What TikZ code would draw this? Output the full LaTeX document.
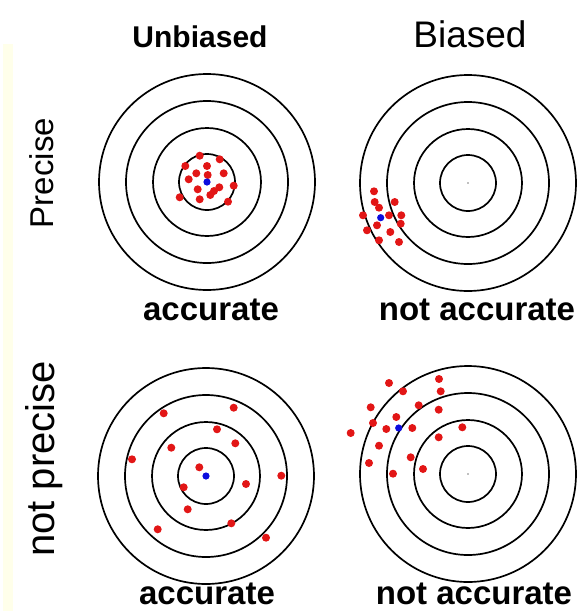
\documentclass[tikz,border=0pt]{standalone}
\usepackage{fontspec}
\setmainfont{Liberation Sans}
\definecolor{shotred}{RGB}{226,22,22}
\definecolor{shotblue}{RGB}{12,12,222}
\definecolor{paleyellow}{RGB}{255,255,234}

\begin{document}
\begin{tikzpicture}[x=1pt,y=-1pt,
    ring/.style={draw=black,line width=1.7pt},
    hit/.style={fill=shotred},
    mean/.style={fill=shotblue},
    lbl/.style={anchor=base,inner sep=0pt,font=\fontsize{33}{33}\selectfont\bfseries},
    side/.style={anchor=base,inner sep=0pt,rotate=90}]
      \useasboundingbox (0,0) rectangle (585,611);
      \fill[paleyellow] (3,44) rectangle (13,611);
      % column and row titles
      \node[anchor=base,font=\fontsize{30}{30}\selectfont\bfseries] (unbiased) at (200,47) {Unbiased};
      \node[anchor=base,font=\fontsize{37}{37}\selectfont] (biased) at (470,47) {Biased};
      \node[side,font=\fontsize{33}{33}\selectfont] (precise) at (53,173) {Precise};
      \node[side,font=\fontsize{40}{40}\selectfont] (notprecise) at (54,459) {not precise};
      % rings
      \foreach \cx/\cy in {207/182, 468/183, 206/476, 468/474} {
        \foreach \r in {28,54,81,108} { \draw[ring] (\cx,\cy) circle (\r); }
        \fill[gray] (\cx,\cy) circle (0.8);
      }
      % precise, unbiased
      \begin{scope}[shift={(207,182)}]
        \foreach \dx/\dy in {-7.3/-26.3, 12.7/-22.7, -21.7/-16, 0/-16, -10.7/-8.7, 16.7/-8.7,
                             -18.3/-2.7, 0.7/-7, -9.3/7.3, 12.3/5.3, 26.7/3.7, -27.3/15.3,
                             -7.3/17.3, 3.3/13, 21/19.7, 7/9} {
          \fill[hit] (\dx,\dy) circle (4);
        }
        \fill[mean] (0,0) circle (3.6);
      \end{scope}
      % precise, biased
      \begin{scope}[shift={(468,183)}]
        \foreach \dx/\dy in {-94/8.3, -93.3/19, -89/24.7, -73.3/19, -105/32.3, -79/32.3,
                             -66.7/32.3, -67.3/40.7, -91/42.3, -101/47.3, -77.7/49,
                             -89/57.3, -69/59} {
          \fill[hit] (\dx,\dy) circle (4);
        }
        \fill[mean] (-87.3,34.7) circle (3.6);
      \end{scope}
      % not precise, unbiased
      \begin{scope}[shift={(206,476)}]
        \foreach \dx/\dy in {-42.3/-62.7, 27.7/-68.3, 11/-46.7, 29.3/-32.7, -34.7/-28.3,
                             -74/-16.7, -6.7/-8.7, 75.3/-0.3, 40/8, -22.3/11.3,
                             -18.3/33.3, 25.3/47.3, -48.3/53.3, 60/61.7} {
          \fill[hit] (\dx,\dy) circle (4);
        }
        \fill[mean] (0,0) circle (3.6);
      \end{scope}
      % not precise, biased
      \begin{scope}[shift={(468,474)}]
        \foreach \dx/\dy in {-79/-91, -29/-95, -65/-82.7, -27.3/-82.7, -97.3/-66.7,
                             -49.3/-68.7, -29.3/-64.3, -71.7/-57, -95/-51, -81.7/-45,
                             -55.7/-46, -5.7/-46.7, -117.3/-41, -29.3/-36.7, -89/-28.3,
                             -57.3/-16.7, -45/-5, -99/-11, -75/-0.3} {
          \fill[hit] (\dx,\dy) circle (4);
        }
        \fill[mean] (-69.3,-46) circle (3.6);
      \end{scope}
      % verdicts
      \node[lbl] (acc1) at (211,320) {accurate};
      \node[lbl] (nacc1) at (477,320) {not accurate};
      \node[lbl] (acc2) at (207,604) {accurate};
      \node[lbl] (nacc2) at (474,604) {not accurate};
\end{tikzpicture}
\end{document}
